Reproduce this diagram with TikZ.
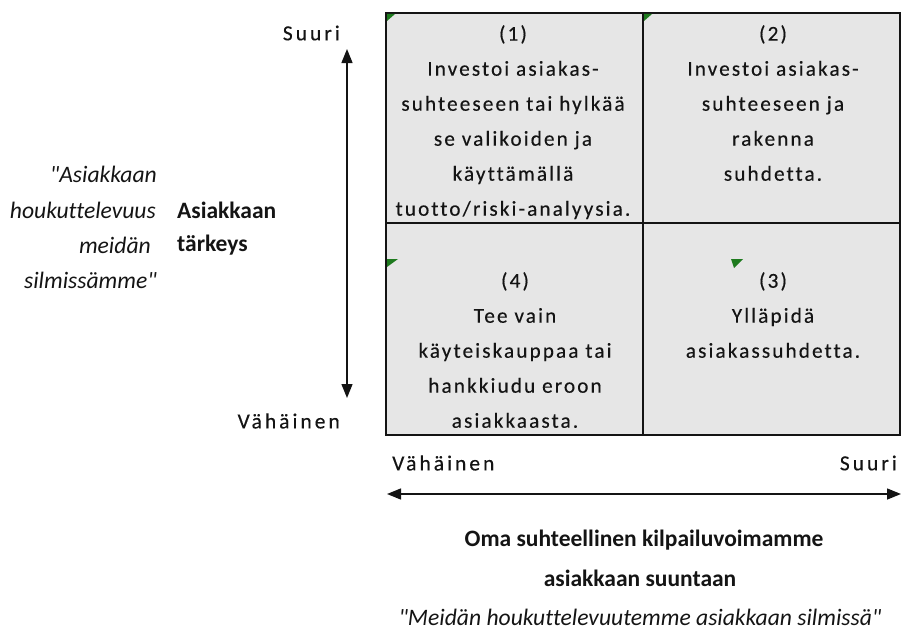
\documentclass[tikz,border=0pt]{standalone}
\usepackage{fontspec}
\setmainfont[Ligatures={CommonOff,TeXOff}]{Carlito}
\newfontfamily\spaced[LetterSpace=10,Ligatures={CommonOff,TeXOff},FakeBold=0.3]{Carlito}
\newfontfamily\widespaced[LetterSpace=14,Ligatures={CommonOff,TeXOff},FakeBold=0.3]{Carlito}
\usetikzlibrary{arrows.meta}
\definecolor{cellgray}{HTML}{E6E6E6}
\definecolor{mark}{HTML}{1E7A1E}
\definecolor{ink}{HTML}{141414}
\tikzset{
  celltext/.style={align=center, font=\spaced\fontsize{21.2}{35}\selectfont, text=ink, anchor=north, inner sep=0pt},
  axislbl/.style={font=\widespaced\fontsize{21.5}{24}\selectfont, text=ink, inner sep=0pt},
  boldlbl/.style={font=\bfseries\fontsize{23.5}{26}\selectfont, text=ink, inner sep=0pt},
  itlbl/.style={font=\itshape\fontsize{23.6}{26}\selectfont, text=ink, inner sep=0pt},
  axisarrow/.style={line width=1.4pt, draw=ink, {Triangle[width=11pt,length=14pt]}-{Triangle[width=11pt,length=14pt]}},
  grid/.style={line width=1.8pt, draw=ink},
  marker/.style={fill=mark, draw=none}
}
\begin{document}
\begin{tikzpicture}[x=1pt,y=-1pt]
\useasboundingbox (0,0) rectangle (901,634);
% cells
\fill[cellgray] (386,13) rectangle (900,435);
\draw[grid] (386,13) rectangle (900,435);
\draw[grid] (643,13) -- (643,435);
\draw[grid] (386,223) -- (900,223);
% markers
\fill[marker] (387,14) -- (395,14) -- (387,21) -- cycle;
\fill[marker] (644,14) -- (652,14) -- (644,21) -- cycle;
\fill[marker] (387,259) -- (398,259) -- (387,267) -- cycle;
\fill[marker] (731,259) -- (743,259) -- (734,268) -- cycle;
% cell texts
\node[celltext] (c1) at (513,25) {(1)\\Investoi asiakas-\\suhteeseen tai hylkää\\se valikoiden ja\\käyttämällä\\tuotto/riski-analyysia.};
\node[celltext] (c2) at (773,25) {(2)\\Investoi asiakas-\\suhteeseen ja\\rakenna\\suhdetta.};
\node[celltext] (c4) at (515,272) {(4)\\Tee vain\\käyteiskauppaa tai\\hankkiudu eroon\\asiakkaasta.};
\node[celltext] (c3) at (773,272) {(3)\\Ylläpidä\\asiakassuhdetta.};
% vertical axis
\node[axislbl, anchor=east] (vsuuri) at (340,33) {Suuri};
\node[axislbl, anchor=east] (vvah) at (340,421) {Vähäinen};
\coordinate (vtop) at (347,49);
\coordinate (vbot) at (347,398);
\draw[axisarrow] (vtop) -- (vbot);
\node[itlbl, anchor=east] (it1) at (157,174) {"Asiakkaan};
\node[itlbl, anchor=east] (it2) at (156,210) {houkuttelevuus};
\node[itlbl, anchor=east] (it3) at (151,245) {meidän};
\node[itlbl, anchor=east] (it4) at (157,280) {silmissämme"};
\node[boldlbl, anchor=west] (b1) at (177,210) {Asiakkaan};
\node[boldlbl, anchor=west] (b2) at (177,245) {tärkeys};
% horizontal axis
\node[axislbl, anchor=west] (hvah) at (392,463) {Vähäinen};
\node[axislbl, anchor=east] (hsuuri) at (897,463) {Suuri};
\coordinate (hleft) at (387,494);
\coordinate (hright) at (901,494);
\draw[axisarrow] (hleft) -- (hright);
\node[boldlbl] (o1) at (644,540) {Oma suhteellinen kilpailuvoimamme};
\node[boldlbl] (o2) at (640,578) {asiakkaan suuntaan};
\node[itlbl] (o3) at (640,617) {"Meidän houkuttelevuutemme asiakkaan silmissä"};
\end{tikzpicture}
\end{document}
